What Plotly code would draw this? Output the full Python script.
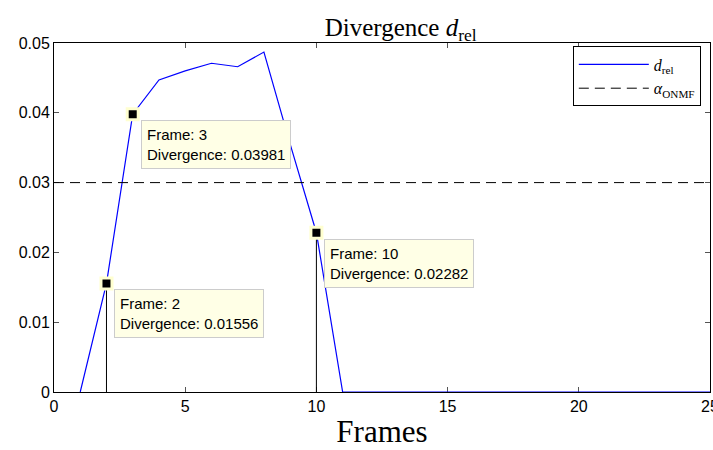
import plotly.graph_objects as go

frames = list(range(1, 26))
divergence = [0.0, 0.01556, 0.03981, 0.0447, 0.0460, 0.0471, 0.0466, 0.0487, 0.0355,
              0.02282, 0.0, 0, 0, 0, 0, 0, 0, 0, 0, 0, 0, 0, 0, 0, 0]
alpha_onmf = 0.03
tip_frames = [3, 2, 10]
stem_frames = [2, 10]
x_ticks = [0, 5, 10, 15, 20, 25]
y_ticks = [0, 0.01, 0.02, 0.03, 0.04, 0.05]
y_tick_text = ["0", "0.01", "0.02", "0.03", "0.04", "0.05"]

tip_vals = [divergence[frames.index(f)] for f in tip_frames]

fig = go.Figure()

# stems for data tips
for f in stem_frames:
    v = divergence[frames.index(f)]
    fig.add_trace(go.Scatter(x=[f, f], y=[0, v], mode="lines",
                             line=dict(color="black", width=1),
                             showlegend=False, hoverinfo="skip"))

fig.add_trace(go.Scatter(x=frames, y=divergence, mode="lines",
                         line=dict(color="#0000FF", width=1.2),
                         name="<i>d</i><sub>rel</sub>"))
fig.add_trace(go.Scatter(x=[0, 25], y=[alpha_onmf, alpha_onmf], mode="lines",
                         line=dict(color="black", width=1, dash="10px,6px"),
                         name="<i>α</i><sub>ONMF</sub>"))

fig.add_trace(go.Scatter(x=tip_frames, y=tip_vals, mode="markers",
                         marker=dict(symbol="square", size=11, color="black",
                                     line=dict(color="#FFFFD0", width=3)),
                         showlegend=False, cliponaxis=False))

for f, v in zip(tip_frames, tip_vals):
    fig.add_annotation(x=f, y=v, xref="x", yref="y",
                       text=f"Frame: {f}<br>Divergence: {v:.5f}",
                       showarrow=False, xanchor="left", yanchor="top",
                       xshift=8, yshift=-6, align="left",
                       bgcolor="#FFFFE6", bordercolor="#CCCCCC", borderwidth=1,
                       borderpad=5,
                       font=dict(family="Liberation Sans, Arial", size=15, color="black"))

axis_common = dict(showline=True, linecolor="black", linewidth=1, mirror="ticks",
                   ticks="inside", ticklen=5, tickcolor="#555555", showgrid=False,
                   zeroline=False, layer="below traces", ticklabeloverflow="allow",
                   automargin=False,
                   tickfont=dict(family="Liberation Sans, Arial", size=16, color="black"))

fig.update_layout(
    width=713, height=450,
    margin=dict(l=54, r=3, t=43, b=58, autoexpand=False),
    plot_bgcolor="white", paper_bgcolor="white",
    title=dict(text="Divergence <i>d</i><sub>rel</sub>", x=0.562, xanchor="center",
               y=0.94, yanchor="middle",
               font=dict(family="Liberation Serif, serif", size=25, color="black")),
    xaxis=dict(range=[0, 25], tickvals=x_ticks,
               title=dict(text="Frames", standoff=6,
                          font=dict(family="Liberation Serif, serif", size=31, color="black")),
               **axis_common),
    yaxis=dict(range=[0, 0.05], tickvals=y_ticks, ticktext=y_tick_text, **axis_common),
    legend=dict(x=0.986, y=0.99, xanchor="right", yanchor="top",
                bgcolor="white", bordercolor="black", borderwidth=1,
                itemwidth=70, tracegroupgap=0,
                font=dict(family="Liberation Serif, serif", size=16, color="black")),
    showlegend=True,
)

fig.write_html("out.html")
